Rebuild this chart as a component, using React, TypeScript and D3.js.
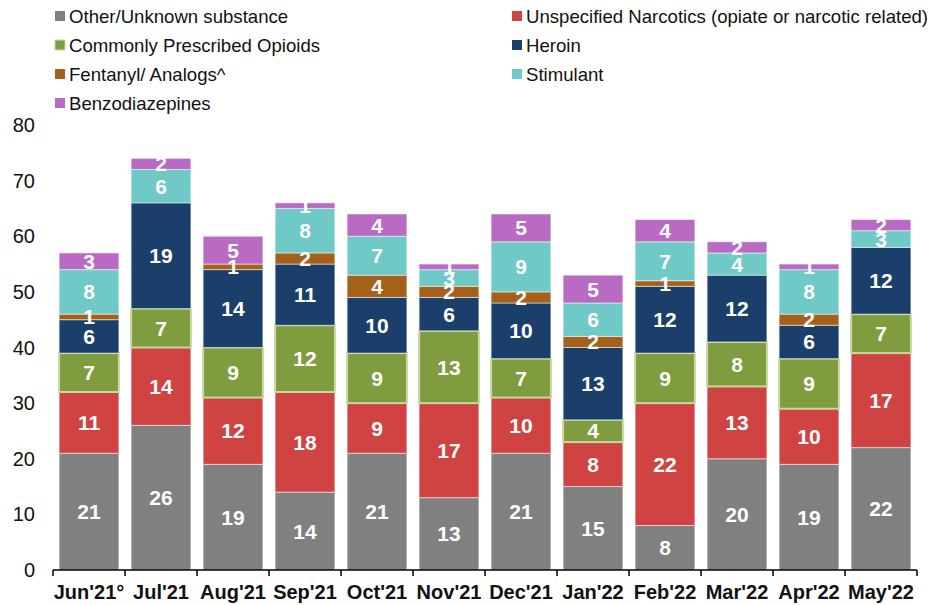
import { useEffect, useRef } from "react";
import * as d3 from "d3";

const months = ["Jun'21°", "Jul'21", "Aug'21", "Sep'21", "Oct'21", "Nov'21", "Dec'21", "Jan'22", "Feb'22", "Mar'22", "Apr'22", "May'22"];

const seriesNames = [
  "Other/Unknown substance",
  "Unspecified Narcotics (opiate or narcotic related)",
  "Commonly Prescribed Opioids",
  "Heroin",
  "Fentanyl/ Analogs^",
  "Stimulant",
  "Benzodiazepines",
];
const seriesColors = ["#808080", "#d04343", "#7f9c3e", "#1b3f6b", "#a5611c", "#6fc9c6", "#b96bc4"];

const other = [21, 26, 19, 14, 21, 13, 21, 15, 8, 20, 19, 22];
const unspecified = [11, 14, 12, 18, 9, 17, 10, 8, 22, 13, 10, 17];
const prescribed = [7, 7, 9, 12, 9, 13, 7, 4, 9, 8, 9, 7];
const heroin = [6, 19, 14, 11, 10, 6, 10, 13, 12, 12, 6, 12];
const fentanyl = [1, 0, 1, 2, 4, 2, 2, 2, 1, 0, 2, 0];
const stimulant = [8, 6, 0, 8, 7, 3, 9, 6, 7, 4, 8, 3];
const benzo = [3, 2, 5, 1, 4, 1, 5, 5, 4, 2, 1, 2];

const yTicks = [0, 10, 20, 30, 40, 50, 60, 70, 80];

const App = () => {
  const svgRef = useRef<SVGSVGElement>(null);

  useEffect(() => {
    const svg = d3.select(svgRef.current);
    svg.selectAll("*").remove();

    const width = 930;
    const height = 605;
    const font = "'Liberation Sans', Arial, sans-serif";
    svg.attr("width", width).attr("height", height).style("font-family", font);

    const all = [other, unspecified, prescribed, heroin, fentanyl, stimulant, benzo];
    const rows = months.map((m, i) => {
      const r: any = { month: m };
      seriesNames.forEach((s, k) => (r[s] = all[k][i]));
      return r;
    });
    const stacked = d3.stack<any>().keys(seriesNames)(rows);

    const x = d3.scaleBand().domain(months).range([53, 917]).paddingInner(0.17).paddingOuter(0.085);
    const y = d3.scaleLinear().domain([0, 80]).range([570, 125]);

    // Legend
    const legend = svg.append("g");
    seriesNames.forEach((s, k) => {
      const col = k % 2;
      const row = Math.floor(k / 2);
      const lx = col === 0 ? 55 : 512;
      const ly = 16 + row * 29;
      legend
        .append("rect")
        .attr("x", lx)
        .attr("y", ly - 5)
        .attr("width", 10)
        .attr("height", 10)
        .attr("fill", seriesColors[k])
        .attr("stroke", k === 2 ? "#c6d9a0" : "none")
        .attr("stroke-width", 1);
      legend
        .append("text")
        .attr("x", lx + 14)
        .attr("y", ly)
        .attr("dy", "0.35em")
        .style("font-size", "18.6px")
        .attr("fill", "#111")
        .text(s);
    });

    // Bars
    const layers = svg
      .append("g")
      .selectAll("g")
      .data(stacked)
      .join("g")
      .attr("fill", (_d, k) => seriesColors[k]);

    layers
      .selectAll("rect")
      .data((d) => d.filter((p) => p[1] - p[0] > 0).map((p) => ({ p, key: d.key })))
      .join("rect")
      .attr("x", (d) => x(d.p.data.month)!)
      .attr("width", x.bandwidth())
      .attr("y", (d) => y(d.p[1]))
      .attr("height", (d) => y(d.p[0]) - y(d.p[1]))
      .attr("stroke", (d) => (d.key === seriesNames[2] ? "#c6d9a0" : "rgba(255,255,255,0.5)"))
      .attr("stroke-width", (d) => (d.key === seriesNames[2] ? 2 : 1));

    // Value labels
    stacked.forEach((layer) => {
      svg
        .append("g")
        .selectAll("text")
        .data(layer.filter((p) => p[1] - p[0] > 0))
        .join("text")
        .attr("x", (p) => x(p.data.month)! + x.bandwidth() / 2)
        .attr("y", (p) => y((p[0] + p[1]) / 2))
        .attr("dy", "0.36em")
        .attr("text-anchor", "middle")
        .attr("fill", "#fff")
        .style("font-size", "21px")
        .style("font-weight", "bold")
        .text((p) => p[1] - p[0]);
    });

    // Y axis labels
    svg
      .append("g")
      .selectAll("text")
      .data(yTicks)
      .join("text")
      .attr("x", 35)
      .attr("y", (d) => y(d))
      .attr("dy", "0.35em")
      .attr("text-anchor", "end")
      .style("font-size", "20px")
      .attr("fill", "#111")
      .text((d) => d);

    // X axis
    const axis = svg.append("g");
    axis
      .append("line")
      .attr("x1", 53)
      .attr("x2", 917)
      .attr("y1", 570)
      .attr("y2", 570)
      .attr("stroke", "#000")
      .attr("stroke-width", 1.5);
    d3.range(months.length + 1).forEach((i) => {
      const tx = 53 + i * (864 / months.length);
      axis
        .append("line")
        .attr("x1", tx)
        .attr("x2", tx)
        .attr("y1", 570)
        .attr("y2", 576)
        .attr("stroke", "#000")
        .attr("stroke-width", 1.5);
    });
    axis
      .selectAll("text")
      .data(months)
      .join("text")
      .attr("x", (m) => x(m)! + x.bandwidth() / 2)
      .attr("y", 592)
      .attr("dy", "0.35em")
      .attr("text-anchor", "middle")
      .style("font-size", "20px")
      .style("font-weight", "bold")
      .attr("fill", "#111")
      .text((m) => m);
  }, []);

  return <svg ref={svgRef} style={{ position: "absolute", left: 0, top: 0 }} />;
};

export default App;
